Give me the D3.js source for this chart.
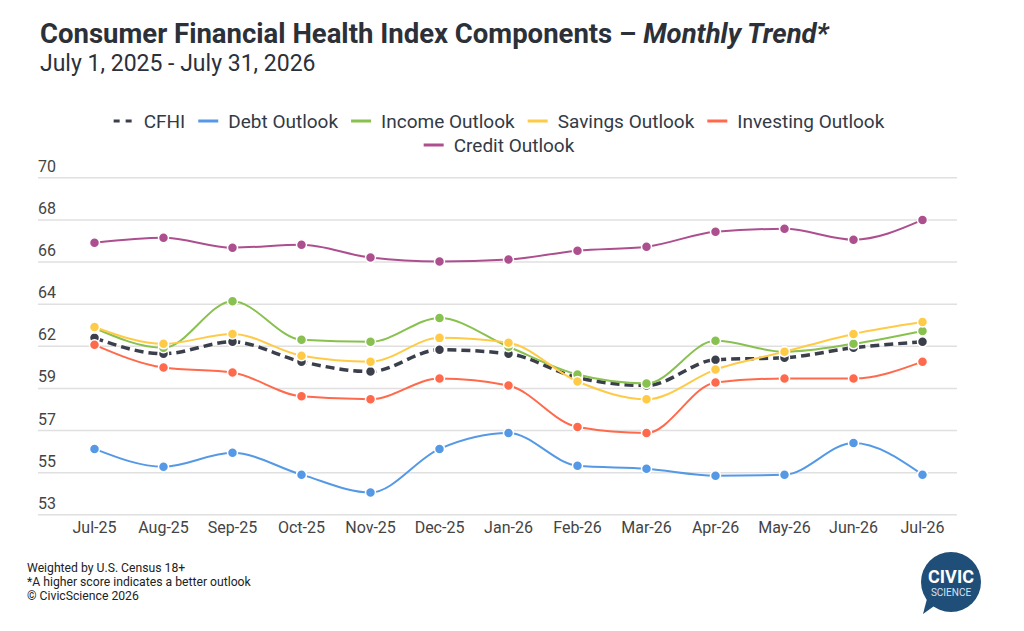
<!DOCTYPE html>
<html>
<head>
	<meta charset="utf-8">
	<title>Consumer Financial Health Index Components</title>
	<script src="https://d3js.org/d3.v7.min.js"></script>
	<style>
		body { margin: 0; background: #fff; }
		svg { font-family: Roboto, "Noto Sans", sans-serif; }
	</style>
	<script type="text/javascript">
		var months = ['Jul-25', 'Aug-25', 'Sep-25', 'Oct-25', 'Nov-25', 'Dec-25', 'Jan-26',
			'Feb-26', 'Mar-26', 'Apr-26', 'May-26', 'Jun-26', 'Jul-26'];
		var seriesNames = ['CFHI', 'Debt Outlook', 'Income Outlook', 'Savings Outlook', 'Investing Outlook', 'Credit Outlook'];
		var cfhi = [61.9, 61.1, 61.7, 60.7, 60.2, 61.3, 61.1, 59.9, 59.5, 60.8, 60.9, 61.4, 61.7];
		var debt = [56.3, 55.4, 56.1, 55.0, 54.1, 56.3, 57.1, 55.45, 55.3, 54.95, 55.0, 56.6, 55.0];
		var income = [62.4, 61.4, 63.75, 61.8, 61.7, 62.9, 61.45, 60.05, 59.6, 61.75, 61.2, 61.6, 62.25];
		var savings = [62.45, 61.6, 62.1, 61.0, 60.7, 61.9, 61.65, 59.7, 58.8, 60.3, 61.2, 62.1, 62.7];
		var investing = [61.55, 60.4, 60.15, 58.95, 58.8, 59.85, 59.5, 57.4, 57.1, 59.65, 59.85, 59.85, 60.7];
		var credit = [66.7, 66.95, 66.45, 66.6, 65.95, 65.75, 65.85, 66.3, 66.5, 67.25, 67.4, 66.85, 67.85];
		var yTicks = [53, 55.125, 57.25, 59.375, 61.5, 63.625, 65.75, 67.875, 70];

		function draw() {
			var width = 1024, height = 631;
			var colors = ['#3b3f4b', '#5599e6', '#88c14f', '#ffcb47', '#ff6a4c', '#ad4f8f'];
			var values = [cfhi, debt, income, savings, investing, credit];

			var svg = d3.select('body').append('svg')
				.attr('width', width)
				.attr('height', height);

			// title block
			var title = svg.append('text')
				.attr('x', 40).attr('y', 43)
				.attr('font-size', 27.5).attr('font-weight', 700)
				.attr('fill', '#2c3039');
			title.append('tspan').text('Consumer Financial Health Index Components – ');
			title.append('tspan').attr('font-style', 'italic').text('Monthly Trend*');
			svg.append('text')
				.attr('x', 40).attr('y', 71)
				.attr('font-size', 23).attr('fill', '#2c3039')
				.text('July 1, 2025 - July 31, 2026');

			var x = d3.scaleBand().domain(months).range([60, 957]);
			var y = d3.scaleLinear().domain([53, 70]).range([514.3, 177.3]);

			// y gridlines + labels sitting above each line
			var yAxis = svg.append('g')
				.attr('transform', 'translate(38,0)')
				.call(d3.axisRight(y).tickValues(yTicks).tickSize(919)
					.tickFormat(function(d) { return Math.round(d); }));
			yAxis.select('.domain').remove();
			yAxis.selectAll('line').attr('stroke', '#e0e0e0').attr('stroke-width', 1.5);
			yAxis.selectAll('text')
				.attr('x', 0).attr('dy', -6)
				.attr('text-anchor', 'start')
				.attr('font-size', 16).attr('fill', '#444')
				.attr('font-family', 'Roboto, sans-serif');

			var xAxis = svg.append('g')
				.attr('transform', 'translate(0,514)')
				.call(d3.axisBottom(x).tickSize(0).tickPadding(8));
			xAxis.select('.domain').remove();
			xAxis.selectAll('text')
				.attr('font-size', 16).attr('fill', '#444')
				.attr('font-family', 'Roboto, sans-serif');

			var line = d3.line()
				.x(function(d, i) { return x(months[i]) + x.bandwidth() / 2; })
				.y(function(d) { return y(d); })
				.curve(d3.curveMonotoneX);

			values.forEach(function(vals, s) {
				var g = svg.append('g').attr('class', 'series');
				g.append('path')
					.attr('d', line(vals))
					.attr('fill', 'none')
					.attr('stroke', colors[s])
					.attr('stroke-width', s == 0 ? 3.5 : 2)
					.attr('stroke-dasharray', s == 0 ? '9,5' : null);
				g.selectAll('circle')
					.data(vals)
					.enter()
					.append('circle')
					.attr('cx', function(d, i) { return x(months[i]) + x.bandwidth() / 2; })
					.attr('cy', function(d) { return y(d); })
					.attr('r', 5)
					.attr('fill', colors[s])
					.attr('stroke', '#fff')
					.attr('stroke-width', 1.5);
			});

			// legend, two centred rows
			var rows = [[0, 1, 2, 3, 4], [5]];
			var rowY = [121, 145];
			rows.forEach(function(row, r) {
				var lg = svg.append('g');
				var pos = 0;
				row.forEach(function(s) {
					var item = lg.append('g').attr('transform', 'translate(' + pos + ',0)');
					item.append('line')
						.attr('x1', 0).attr('x2', 20)
						.attr('y1', 0).attr('y2', 0)
						.attr('stroke', colors[s])
						.attr('stroke-width', 3)
						.attr('stroke-dasharray', s == 0 ? '6,6' : null);
					var t = item.append('text')
						.attr('x', 30).attr('dy', '0.35em')
						.attr('font-size', 19).attr('fill', '#333a45')
						.text(seriesNames[s]);
					pos += 30 + t.node().getComputedTextLength() + 13;
				});
				var w = pos - 13;
				lg.attr('transform', 'translate(' + (499 - w / 2) + ',' + rowY[r] + ')');
			});

			// footnotes
			var notes = ['Weighted by U.S. Census 18+', '*A higher score indicates a better outlook', '© CivicScience 2026'];
			svg.selectAll('.note')
				.data(notes)
				.enter()
				.append('text')
				.attr('class', 'note')
				.attr('x', 27)
				.attr('y', function(d, i) { return 572 + i * 13.8; })
				.attr('font-size', 12.2)
				.attr('fill', '#222')
				.text(function(d) { return d; });

			// logo bubble
			var logo = svg.append('g').attr('transform', 'translate(951,582)');
			logo.append('path')
				.attr('d', 'M -14 22 L -28 32 L -23 13 Z')
				.attr('fill', '#1f4e79');
			logo.append('circle').attr('r', 30).attr('fill', '#1f4e79');
			logo.append('text')
				.attr('y', 1).attr('text-anchor', 'middle')
				.attr('font-size', 18).attr('font-weight', 700).attr('fill', '#fff')
				.text('CIVIC');
			logo.append('text')
				.attr('y', 14).attr('text-anchor', 'middle')
				.attr('font-size', 10).attr('fill', '#d8e2ee')
				.text('SCIENCE');
		}
	</script>
</head>
<body onload="draw()">
</body>
</html>
